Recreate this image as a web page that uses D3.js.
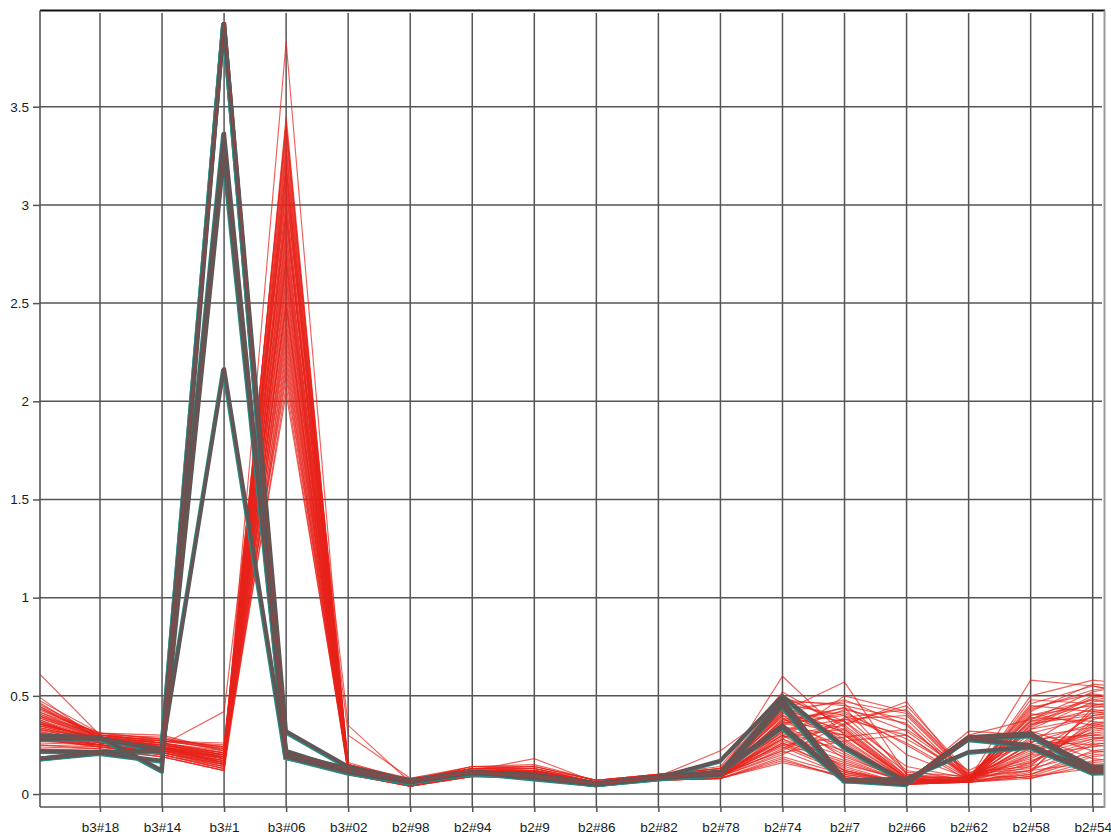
<!DOCTYPE html>
<html>
<head>
<meta charset="utf-8">
<script src="https://cdn.jsdelivr.net/npm/d3@7"></script>
<style>
  body { margin: 0; background: #fff; }
  svg { display: block; }
  text { font-family: Arial, "Liberation Sans", sans-serif; }
</style>
</head>
<body>
<svg id="chart" width="1111" height="835"></svg>
<script>
// Axis categories (labelled positions 1..17); position 0 and 18 are the
// partially visible leading/trailing coordinates at the plot edges.
const axisLabels = ["b3#18", "b3#14", "b3#1", "b3#06", "b3#02", "b2#98", "b2#94", "b2#9",
  "b2#86", "b2#82", "b2#78", "b2#74", "b2#7", "b2#66", "b2#62", "b2#58", "b2#54"];

const yTicks = [0, 0.5, 1, 1.5, 2, 2.5, 3, 3.5];

// Highlighted records (drawn as heavy dark lines)
const highlighted = [
  [0.30, 0.29, 0.12, 3.93, 0.32, 0.14, 0.07, 0.11, 0.10, 0.055, 0.085, 0.17, 0.50, 0.24, 0.06, 0.29, 0.31, 0.13, 0.14],
  [0.28, 0.285, 0.22, 3.93, 0.22, 0.12, 0.065, 0.105, 0.09, 0.05, 0.08, 0.11, 0.48, 0.07, 0.06, 0.29, 0.24, 0.11, 0.12],
  [0.22, 0.215, 0.22, 3.37, 0.19, 0.12, 0.06, 0.11, 0.08, 0.05, 0.085, 0.10, 0.45, 0.07, 0.08, 0.215, 0.24, 0.12, 0.13],
  [0.18, 0.21, 0.17, 3.25, 0.21, 0.13, 0.07, 0.115, 0.095, 0.055, 0.09, 0.115, 0.35, 0.075, 0.065, 0.28, 0.25, 0.11, 0.12],
  [0.18, 0.215, 0.22, 2.17, 0.19, 0.11, 0.06, 0.11, 0.085, 0.05, 0.085, 0.11, 0.34, 0.07, 0.05, 0.29, 0.30, 0.14, 0.15],
  [0.29, 0.28, 0.23, 3.93, 0.20, 0.13, 0.07, 0.11, 0.09, 0.05, 0.08, 0.10, 0.47, 0.075, 0.055, 0.28, 0.30, 0.12, 0.13]
];

// Remaining records (thin red lines)
const background = [
  [0.62, 0.30, 0.26, 0.18, 3.83, 0.12, 0.05, 0.12, 0.11, 0.06, 0.08, 0.10, 0.60, 0.30, 0.08, 0.07, 0.58, 0.55, 0.50],
  [0.45, 0.28, 0.24, 0.15, 3.45, 0.14, 0.06, 0.11, 0.10, 0.05, 0.09, 0.12, 0.42, 0.57, 0.10, 0.06, 0.20, 0.40, 0.45],
  [0.38, 0.26, 0.22, 0.20, 3.42, 0.12, 0.04, 0.10, 0.12, 0.06, 0.08, 0.09, 0.30, 0.35, 0.47, 0.08, 0.12, 0.25, 0.30],
  [0.35, 0.29, 0.28, 0.24, 3.38, 0.16, 0.07, 0.13, 0.14, 0.07, 0.09, 0.11, 0.25, 0.12, 0.06, 0.30, 0.38, 0.48, 0.52],
  [0.30, 0.25, 0.21, 0.14, 3.35, 0.11, 0.05, 0.09, 0.09, 0.05, 0.07, 0.08, 0.38, 0.42, 0.25, 0.07, 0.10, 0.20, 0.22],
  [0.42, 0.31, 0.30, 0.22, 3.31, 0.13, 0.06, 0.12, 0.18, 0.06, 0.10, 0.13, 0.45, 0.28, 0.07, 0.06, 0.50, 0.58, 0.55],
  [0.28, 0.24, 0.20, 0.13, 3.28, 0.10, 0.04, 0.10, 0.08, 0.05, 0.08, 0.10, 0.22, 0.10, 0.05, 0.09, 0.15, 0.35, 0.40],
  [0.50, 0.27, 0.25, 0.19, 3.26, 0.15, 0.08, 0.14, 0.13, 0.06, 0.09, 0.12, 0.48, 0.45, 0.38, 0.08, 0.28, 0.30, 0.27],
  [0.33, 0.28, 0.23, 0.16, 3.22, 0.12, 0.05, 0.11, 0.10, 0.05, 0.08, 0.09, 0.35, 0.20, 0.06, 0.07, 0.40, 0.45, 0.42],
  [0.40, 0.30, 0.27, 0.25, 3.20, 0.13, 0.06, 0.12, 0.12, 0.06, 0.09, 0.11, 0.28, 0.50, 0.42, 0.10, 0.08, 0.15, 0.18],
  [0.25, 0.23, 0.19, 0.12, 3.17, 0.11, 0.05, 0.09, 0.09, 0.04, 0.07, 0.08, 0.18, 0.08, 0.05, 0.06, 0.09, 0.13, 0.16],
  [0.37, 0.27, 0.24, 0.18, 3.14, 0.14, 0.07, 0.13, 0.12, 0.06, 0.08, 0.10, 0.40, 0.32, 0.08, 0.07, 0.35, 0.50, 0.48],
  [0.44, 0.29, 0.26, 0.21, 3.11, 0.12, 0.06, 0.11, 0.11, 0.05, 0.09, 0.12, 0.33, 0.38, 0.30, 0.09, 0.22, 0.28, 0.33],
  [0.32, 0.25, 0.22, 0.17, 3.09, 0.13, 0.05, 0.10, 0.10, 0.05, 0.08, 0.09, 0.26, 0.15, 0.07, 0.06, 0.12, 0.38, 0.44],
  [0.27, 0.26, 0.25, 0.42, 3.06, 0.35, 0.06, 0.12, 0.13, 0.06, 0.09, 0.11, 0.36, 0.44, 0.10, 0.08, 0.32, 0.22, 0.20],
  [0.36, 0.28, 0.21, 0.15, 3.03, 0.11, 0.04, 0.09, 0.09, 0.05, 0.08, 0.10, 0.43, 0.26, 0.06, 0.07, 0.45, 0.42, 0.38],
  [0.41, 0.30, 0.29, 0.23, 3.01, 0.15, 0.07, 0.14, 0.15, 0.07, 0.10, 0.13, 0.30, 0.12, 0.05, 0.09, 0.18, 0.32, 0.36],
  [0.29, 0.24, 0.20, 0.14, 2.98, 0.10, 0.05, 0.10, 0.08, 0.05, 0.07, 0.09, 0.20, 0.36, 0.45, 0.11, 0.14, 0.26, 0.24],
  [0.34, 0.27, 0.23, 0.19, 2.95, 0.14, 0.06, 0.12, 0.11, 0.06, 0.08, 0.10, 0.38, 0.30, 0.07, 0.06, 0.38, 0.52, 0.58],
  [0.47, 0.28, 0.27, 0.26, 2.93, 0.12, 0.05, 0.11, 0.12, 0.05, 0.09, 0.11, 0.46, 0.40, 0.12, 0.07, 0.26, 0.36, 0.30],
  [0.31, 0.26, 0.24, 0.16, 2.90, 0.30, 0.08, 0.13, 0.10, 0.06, 0.08, 0.10, 0.24, 0.11, 0.06, 0.32, 0.30, 0.18, 0.15],
  [0.26, 0.25, 0.20, 0.13, 2.87, 0.11, 0.04, 0.10, 0.09, 0.05, 0.07, 0.08, 0.32, 0.22, 0.08, 0.06, 0.11, 0.44, 0.47],
  [0.39, 0.29, 0.26, 0.20, 2.85, 0.13, 0.06, 0.11, 0.11, 0.06, 0.09, 0.12, 0.41, 0.48, 0.35, 0.08, 0.20, 0.24, 0.28],
  [0.35, 0.27, 0.22, 0.17, 2.82, 0.12, 0.05, 0.12, 0.10, 0.05, 0.08, 0.10, 0.28, 0.14, 0.05, 0.07, 0.42, 0.56, 0.53],
  [0.43, 0.31, 0.28, 0.22, 2.79, 0.14, 0.07, 0.13, 0.14, 0.07, 0.10, 0.14, 0.52, 0.34, 0.09, 0.08, 0.36, 0.40, 0.43],
  [0.24, 0.23, 0.19, 0.12, 2.77, 0.10, 0.04, 0.09, 0.08, 0.04, 0.07, 0.08, 0.17, 0.09, 0.05, 0.06, 0.10, 0.22, 0.26],
  [0.33, 0.26, 0.23, 0.18, 2.74, 0.13, 0.06, 0.11, 0.12, 0.06, 0.08, 0.09, 0.35, 0.41, 0.28, 0.10, 0.16, 0.34, 0.39],
  [0.38, 0.28, 0.25, 0.20, 2.71, 0.12, 0.05, 0.10, 0.10, 0.05, 0.09, 0.11, 0.44, 0.27, 0.07, 0.06, 0.48, 0.46, 0.41],
  [0.30, 0.25, 0.21, 0.15, 2.69, 0.11, 0.05, 0.11, 0.09, 0.05, 0.08, 0.10, 0.22, 0.38, 0.40, 0.09, 0.12, 0.16, 0.19],
  [0.46, 0.30, 0.27, 0.24, 2.66, 0.15, 0.07, 0.13, 0.13, 0.06, 0.09, 0.12, 0.39, 0.18, 0.06, 0.07, 0.33, 0.47, 0.50],
  [0.28, 0.24, 0.22, 0.16, 2.63, 0.12, 0.05, 0.10, 0.10, 0.05, 0.08, 0.09, 0.29, 0.33, 0.08, 0.06, 0.24, 0.30, 0.34],
  [0.36, 0.27, 0.24, 0.19, 2.61, 0.13, 0.06, 0.12, 0.11, 0.06, 0.08, 0.11, 0.47, 0.46, 0.20, 0.08, 0.39, 0.37, 0.32],
  [0.41, 0.29, 0.26, 0.21, 2.58, 0.14, 0.06, 0.12, 0.12, 0.06, 0.09, 0.10, 0.34, 0.12, 0.05, 0.07, 0.14, 0.42, 0.46],
  [0.32, 0.26, 0.23, 0.17, 2.55, 0.11, 0.05, 0.10, 0.10, 0.05, 0.08, 0.09, 0.25, 0.29, 0.33, 0.12, 0.27, 0.25, 0.22],
  [0.25, 0.24, 0.20, 0.13, 2.52, 0.10, 0.04, 0.09, 0.08, 0.04, 0.07, 0.08, 0.19, 0.10, 0.06, 0.06, 0.09, 0.19, 0.23],
  [0.37, 0.28, 0.25, 0.20, 2.50, 0.13, 0.06, 0.11, 0.11, 0.06, 0.09, 0.11, 0.42, 0.37, 0.09, 0.08, 0.44, 0.51, 0.47],
  [0.44, 0.30, 0.27, 0.23, 2.47, 0.14, 0.07, 0.13, 0.13, 0.07, 0.10, 0.13, 0.31, 0.43, 0.36, 0.07, 0.19, 0.28, 0.31],
  [0.29, 0.25, 0.22, 0.15, 2.44, 0.12, 0.05, 0.10, 0.10, 0.05, 0.08, 0.10, 0.27, 0.16, 0.06, 0.06, 0.35, 0.43, 0.40],
  [0.34, 0.27, 0.23, 0.18, 2.41, 0.12, 0.06, 0.11, 0.11, 0.06, 0.08, 0.10, 0.37, 0.24, 0.07, 0.08, 0.21, 0.33, 0.37],
  [0.40, 0.29, 0.26, 0.21, 2.38, 0.13, 0.06, 0.12, 0.12, 0.05, 0.09, 0.22, 0.45, 0.31, 0.08, 0.07, 0.46, 0.55, 0.49],
  [0.27, 0.25, 0.21, 0.14, 2.36, 0.11, 0.05, 0.10, 0.09, 0.05, 0.07, 0.09, 0.23, 0.39, 0.43, 0.10, 0.13, 0.21, 0.25],
  [0.35, 0.27, 0.24, 0.18, 2.33, 0.13, 0.05, 0.11, 0.11, 0.06, 0.08, 0.10, 0.33, 0.13, 0.05, 0.06, 0.31, 0.39, 0.42],
  [0.48, 0.31, 0.28, 0.24, 2.30, 0.15, 0.07, 0.14, 0.14, 0.07, 0.10, 0.13, 0.50, 0.35, 0.11, 0.09, 0.37, 0.46, 0.44],
  [0.31, 0.26, 0.22, 0.16, 2.27, 0.12, 0.05, 0.10, 0.10, 0.05, 0.08, 0.09, 0.21, 0.27, 0.30, 0.08, 0.17, 0.27, 0.29],
  [0.36, 0.28, 0.24, 0.19, 2.24, 0.13, 0.06, 0.12, 0.11, 0.06, 0.09, 0.11, 0.40, 0.21, 0.06, 0.07, 0.41, 0.35, 0.31],
  [0.23, 0.22, 0.19, 0.12, 2.21, 0.10, 0.04, 0.09, 0.08, 0.04, 0.07, 0.08, 0.16, 0.09, 0.05, 0.06, 0.08, 0.17, 0.20],
  [0.42, 0.29, 0.25, 0.20, 2.18, 0.14, 0.06, 0.12, 0.12, 0.06, 0.09, 0.12, 0.36, 0.40, 0.26, 0.08, 0.25, 0.31, 0.35],
  [0.33, 0.26, 0.23, 0.17, 2.15, 0.12, 0.05, 0.11, 0.10, 0.05, 0.08, 0.10, 0.30, 0.19, 0.07, 0.06, 0.34, 0.49, 0.54],
  [0.39, 0.28, 0.26, 0.22, 2.12, 0.13, 0.06, 0.11, 0.11, 0.06, 0.09, 0.11, 0.43, 0.47, 0.41, 0.09, 0.23, 0.29, 0.26],
  [0.30, 0.25, 0.21, 0.15, 2.08, 0.11, 0.05, 0.10, 0.09, 0.05, 0.08, 0.09, 0.26, 0.11, 0.05, 0.07, 0.37, 0.41, 0.45],
  [0.37, 0.27, 0.24, 0.19, 2.04, 0.13, 0.06, 0.12, 0.11, 0.06, 0.08, 0.10, 0.34, 0.30, 0.08, 0.06, 0.16, 0.36, 0.40],
  [0.45, 0.30, 0.27, 0.23, 3.40, 0.14, 0.07, 0.13, 0.12, 0.06, 0.09, 0.12, 0.49, 0.37, 0.14, 0.08, 0.43, 0.53, 0.57],
  [0.34, 0.27, 0.23, 0.18, 3.18, 0.12, 0.05, 0.11, 0.10, 0.05, 0.08, 0.10, 0.32, 0.25, 0.07, 0.07, 0.29, 0.34, 0.29],
  [0.40, 0.28, 0.25, 0.21, 2.96, 0.13, 0.06, 0.12, 0.12, 0.06, 0.09, 0.11, 0.37, 0.44, 0.32, 0.10, 0.33, 0.39, 0.36],
  [0.29, 0.25, 0.21, 0.16, 2.72, 0.11, 0.05, 0.10, 0.09, 0.05, 0.08, 0.09, 0.28, 0.17, 0.06, 0.06, 0.26, 0.45, 0.51],
  [0.36, 0.28, 0.24, 0.20, 2.49, 0.13, 0.06, 0.11, 0.11, 0.06, 0.08, 0.10, 0.41, 0.33, 0.09, 0.07, 0.40, 0.48, 0.43]
];

const svg = d3.select("#chart");
const plot = { left: 40, right: 1104, top: 10.5, bottom: 807 };

// Position index -> x (index 1 = first labelled axis, 17 = last)
const x = d3.scaleLinear().domain([1, 17]).range([100, 1092.7]);
const y = d3.scaleLinear().domain([-0.066, 3.99]).range([plot.bottom, plot.top]);

const gridColor = "#555";
const fontStack = "Arial, 'Liberation Sans', sans-serif";

svg.append("defs").append("clipPath").attr("id", "plot-clip")
  .append("rect")
  .attr("x", plot.left).attr("y", plot.top)
  .attr("width", plot.right - plot.left).attr("height", plot.bottom - plot.top);

// Horizontal grid at each y tick
svg.append("g").selectAll("line").data(yTicks).join("line")
  .attr("x1", plot.left).attr("x2", plot.right - 2)
  .attr("y1", d => y(d)).attr("y2", d => y(d))
  .attr("stroke", gridColor).attr("stroke-width", 1.5);

// Vertical grid at each labelled axis, extending below the frame as a tick
const positions = d3.range(1, axisLabels.length + 1);
svg.append("g").selectAll("line").data(positions).join("line")
  .attr("x1", d => x(d)).attr("x2", d => x(d))
  .attr("y1", 13).attr("y2", plot.bottom)
  .attr("stroke", gridColor).attr("stroke-width", 1.5);

// Polylines across all positions (0 .. 18)
const line = d3.line().x((d, i) => x(i)).y(d => y(d));

const marks = svg.append("g").attr("clip-path", "url(#plot-clip)");

marks.append("g").selectAll("path").data(background).join("path")
  .attr("d", line)
  .attr("fill", "none")
  .attr("stroke", "#e8231b")
  .attr("stroke-opacity", 0.72)
  .attr("stroke-width", 1.15);

const hi = marks.append("g");
hi.append("g").attr("transform", "translate(-0.9,1.1)")
  .selectAll("path").data(highlighted).join("path")
  .attr("d", line)
  .attr("fill", "none")
  .attr("stroke", "#2b8a83")
  .attr("stroke-width", 4);
hi.append("g").selectAll("path").data(highlighted).join("path")
  .attr("d", line)
  .attr("fill", "none")
  .attr("stroke", "#595959")
  .attr("stroke-width", 3.8);
hi.append("g").selectAll("path").data(highlighted).join("path")
  .attr("d", line)
  .attr("fill", "none")
  .attr("stroke", "#c8362f")
  .attr("stroke-opacity", 0.35)
  .attr("stroke-width", 0.8);

// Y axis
const yAxis = svg.append("g")
  .attr("transform", `translate(${plot.left},0)`)
  .call(d3.axisLeft(y).tickValues(yTicks).tickSize(7).tickPadding(4).tickFormat(d3.format("")));
yAxis.select(".domain").remove();
yAxis.selectAll(".tick line").attr("stroke", gridColor).attr("stroke-width", 1.5);
yAxis.selectAll(".tick text").attr("font-size", 13.5).attr("fill", "#1a1a1a")
  .style("font-family", fontStack);

// X axis
const xAxis = svg.append("g")
  .attr("transform", `translate(0,${plot.bottom})`)
  .call(d3.axisBottom(x).tickValues(positions).tickSize(5).tickPadding(10)
    .tickFormat(i => axisLabels[i - 1]));
xAxis.select(".domain").remove();
xAxis.selectAll(".tick line").attr("stroke", gridColor).attr("stroke-width", 1.5);
xAxis.selectAll(".tick text").attr("font-size", 13.5).attr("fill", "#1a1a1a")
  .style("font-family", fontStack);

// Frame
svg.append("line").attr("x1", plot.left).attr("x2", plot.right + 1)
  .attr("y1", plot.top).attr("y2", plot.top)
  .attr("stroke", "#111").attr("stroke-width", 1.8);
svg.append("line").attr("x1", plot.left).attr("x2", plot.left)
  .attr("y1", plot.top).attr("y2", plot.bottom)
  .attr("stroke", gridColor).attr("stroke-width", 1.6);
svg.append("line").attr("x1", plot.left).attr("x2", plot.right)
  .attr("y1", plot.bottom).attr("y2", plot.bottom)
  .attr("stroke", gridColor).attr("stroke-width", 1.6);
svg.append("line").attr("x1", plot.right + 0.5).attr("x2", plot.right + 0.5)
  .attr("y1", plot.top).attr("y2", plot.bottom + 1)
  .attr("stroke", "#999").attr("stroke-width", 2);
</script>
</body>
</html>
